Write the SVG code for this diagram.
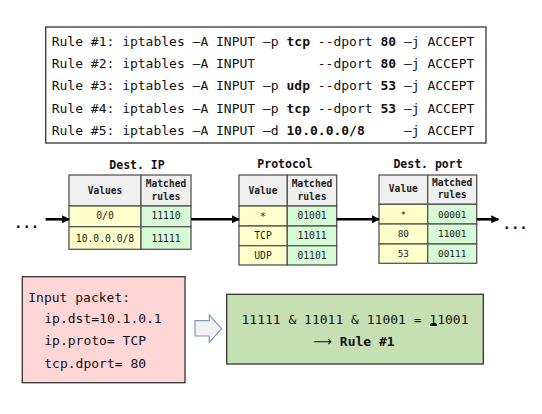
<svg xmlns="http://www.w3.org/2000/svg" width="542" height="414" viewBox="0 0 542 414">
<style>
  .mono { font-family: "DejaVu Sans Mono", "Liberation Mono", monospace; fill: #111; }
  .rule { font-size: 13px; }
  .b { font-weight: bold; }
  .title { font-size: 11.5px; font-weight: bold; text-anchor: middle; }
  .hdr { font-size: 9.6px; font-weight: bold; text-anchor: middle; fill: #222; }
  .cell { font-size: 9.7px; text-anchor: middle; fill: #222; }
  .cellp { font-size: 9.4px; text-anchor: middle; fill: #222; }
  .box { fill: #ffffff; stroke: #333; stroke-width: 1.3; }
  .th { fill: #efefef; stroke: #555; stroke-width: 1.3; }
  .tv { fill: #ffffcc; stroke: #555; stroke-width: 1.3; }
  .tm { fill: #d6fad6; stroke: #555; stroke-width: 1.3; }
  .conn { stroke: #000; stroke-width: 2.6; fill: none; }
  .pkt { font-size: 13px; }
  .arr { font-family: "DejaVu Sans", "Liberation Sans", sans-serif; }
</style>
<defs>
  <marker id="ah" markerWidth="8" markerHeight="8" refX="7" refY="4" orient="auto" markerUnits="userSpaceOnUse">
    <path d="M0,0 L8,4 L0,8 Z" fill="#000"/>
  </marker>
</defs>

<g id="rules">
  <rect class="box" x="45.7" y="27" width="440.3" height="116"/>
  <text class="mono rule" x="51.7" y="45.5" xml:space="preserve">Rule #1: iptables –A INPUT –p <tspan class="b">tcp</tspan> --dport <tspan class="b">80</tspan> –j ACCEPT</text>
  <text class="mono rule" x="51.7" y="67.8" xml:space="preserve">Rule #2: iptables –A INPUT        --dport <tspan class="b">80</tspan> –j ACCEPT</text>
  <text class="mono rule" x="51.7" y="90.2" xml:space="preserve">Rule #3: iptables –A INPUT –p <tspan class="b">udp</tspan> --dport <tspan class="b">53</tspan> –j ACCEPT</text>
  <text class="mono rule" x="51.7" y="112.6" xml:space="preserve">Rule #4: iptables –A INPUT –p <tspan class="b">tcp</tspan> --dport <tspan class="b">53</tspan> –j ACCEPT</text>
  <text class="mono rule" x="51.7" y="135" xml:space="preserve">Rule #5: iptables –A INPUT –d <tspan class="b">10.0.0.0/8</tspan>     –j ACCEPT</text>
</g>

<g id="dest-ip">
  <text class="mono title" x="137" y="168.5">Dest. IP</text>
  <rect class="th" x="69" y="175" width="72" height="31"/>
  <rect class="th" x="141" y="175" width="50" height="31"/>
  <rect class="tv" x="69" y="206" width="72" height="20.7"/>
  <rect class="tm" x="141" y="206" width="50" height="20.7"/>
  <rect class="tv" x="69" y="226.7" width="72" height="22.6"/>
  <rect class="tm" x="141" y="226.7" width="50" height="22.6"/>
  <text class="mono hdr" x="105" y="194">Values</text>
  <text class="mono hdr" x="166" y="187.3">Matched</text>
  <text class="mono hdr" x="166" y="200">rules</text>
  <text class="mono cell" x="105" y="219.3">0/0</text>
  <text class="mono cell" x="166" y="219.3">11110</text>
  <text class="mono cell" x="105" y="242.3">10.0.0.0/8</text>
  <text class="mono cell" x="166" y="242.3">11111</text>
</g>

<g id="protocol">
  <text class="mono title" x="285" y="167.5">Protocol</text>
  <rect class="th" x="239" y="175" width="48.3" height="31"/>
  <rect class="th" x="287.3" y="175" width="49.4" height="31"/>
  <rect class="tv" x="239" y="206" width="48.3" height="20"/>
  <rect class="tm" x="287.3" y="206" width="49.4" height="20"/>
  <rect class="tv" x="239" y="226" width="48.3" height="19.7"/>
  <rect class="tm" x="287.3" y="226" width="49.4" height="19.7"/>
  <rect class="tv" x="239" y="245.7" width="48.3" height="19.3"/>
  <rect class="tm" x="287.3" y="245.7" width="49.4" height="19.3"/>
  <text class="mono hdr" x="263" y="194">Value</text>
  <text class="mono hdr" x="312" y="187">Matched</text>
  <text class="mono hdr" x="312" y="200">rules</text>
  <text class="mono cell" x="263" y="220">*</text>
  <text class="mono cell" x="312" y="219.3">01001</text>
  <text class="mono cell" x="263" y="239.3">TCP</text>
  <text class="mono cell" x="312" y="239.3">11011</text>
  <text class="mono cell" x="263" y="259.3">UDP</text>
  <text class="mono cell" x="312" y="259.3">01101</text>
</g>

<g id="dest-port">
  <text class="mono title" x="428" y="167.5">Dest. port</text>
  <rect class="th" x="379" y="175" width="48.7" height="29.3"/>
  <rect class="th" x="427.7" y="175" width="49" height="29.3"/>
  <rect class="tv" x="379" y="204.3" width="48.7" height="19.7"/>
  <rect class="tm" x="427.7" y="204.3" width="49" height="19.7"/>
  <rect class="tv" x="379" y="224" width="48.7" height="20"/>
  <rect class="tm" x="427.7" y="224" width="49" height="20"/>
  <rect class="tv" x="379" y="244" width="48.7" height="19.3"/>
  <rect class="tm" x="427.7" y="244" width="49" height="19.3"/>
  <text class="mono hdr" x="403.3" y="191.7">Value</text>
  <text class="mono hdr" x="452.2" y="186">Matched</text>
  <text class="mono hdr" x="452.2" y="198.3">rules</text>
  <text class="mono cellp" x="403.3" y="218.3">*</text>
  <text class="mono cellp" x="452.2" y="217.7">00001</text>
  <text class="mono cellp" x="403.3" y="237.3">80</text>
  <text class="mono cellp" x="452.2" y="237.3">11001</text>
  <text class="mono cellp" x="403.3" y="257.3">53</text>
  <text class="mono cellp" x="452.2" y="257.3">00111</text>
</g>

<g id="connectors">
  <line class="conn" x1="45.7" y1="219.3" x2="69" y2="219.3" marker-end="url(#ah)"/>
  <line class="conn" x1="191" y1="219.3" x2="239" y2="219.3" marker-end="url(#ah)"/>
  <line class="conn" x1="336.7" y1="219.3" x2="379" y2="219.3" marker-end="url(#ah)"/>
  <line class="conn" x1="476.7" y1="219.3" x2="498.3" y2="219.3" marker-end="url(#ah)"/>
  <text class="mono b" x="14" y="228" font-size="14">...</text>
  <text class="mono b" x="502.5" y="229" font-size="14">...</text>
</g>

<g id="input-packet">
  <rect x="22.3" y="276.7" width="162.7" height="106" fill="#ffd6d6" stroke="#333" stroke-width="1.3"/>
  <text class="mono pkt" x="28.3" y="301.7">Input packet:</text>
  <text class="mono pkt" x="44.3" y="323.3">ip.dst=10.1.0.1</text>
  <text class="mono pkt" x="44.3" y="345">ip.proto= TCP</text>
  <text class="mono pkt" x="44.3" y="368.3">tcp.dport= 80</text>
</g>

<g id="block-arrow">
  <polygon points="195,320.7 209.3,320.7 209.3,315 221.7,328.7 209.3,342.3 209.3,336 195,336" fill="#f2f2f2" stroke="#7f98b5" stroke-width="1.2"/>
</g>

<g id="result">
  <rect x="226.7" y="294.3" width="256.6" height="69.7" fill="#c6e0b4" stroke="#333" stroke-width="1.3"/>
  <text class="mono pkt" x="355" y="324" text-anchor="middle">11111 &amp; 11011 &amp; 11001 = 11001</text>
  <rect x="430" y="324" width="7" height="2" fill="#111"/>
  <text class="mono pkt" x="354" y="346" text-anchor="middle"><tspan class="arr">⟶</tspan> <tspan class="b">Rule #1</tspan></text>
</g>
</svg>
